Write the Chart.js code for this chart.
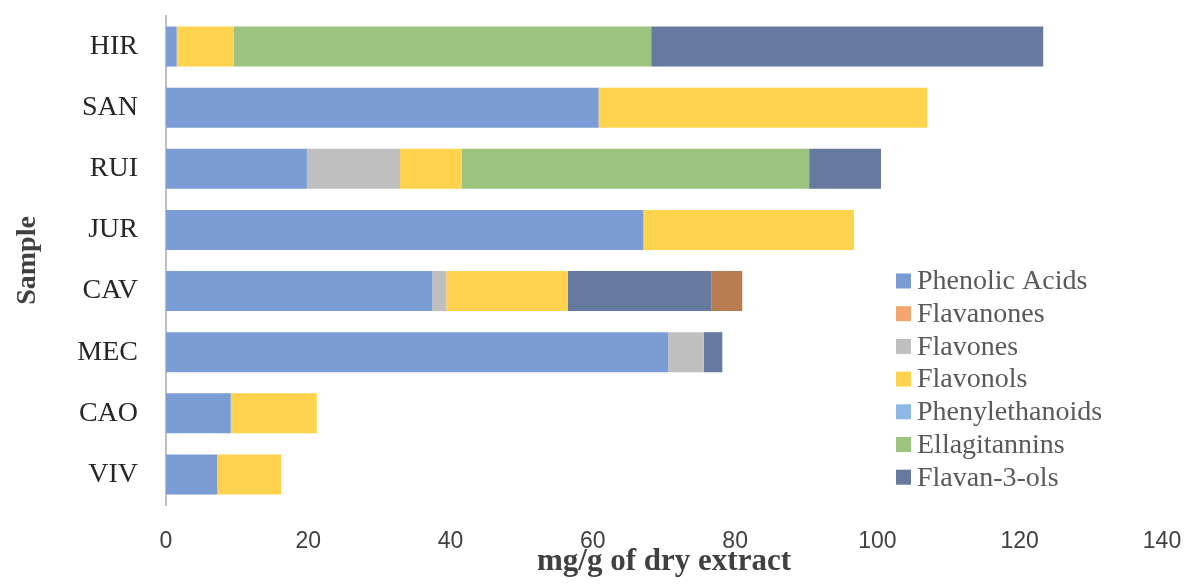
<!DOCTYPE html>
<html>
<head>
<meta charset="utf-8">
<script src="https://cdn.jsdelivr.net/npm/chart.js@4.4.1/dist/chart.umd.min.js"></script>
<style>
  html, body { margin: 0; padding: 0; background: #fff; }
</style>
</head>
<body>
<canvas id="myChart" width="1186" height="587"></canvas>
<script>
// samples, top to bottom
var samples = ['HIR', 'SAN', 'RUI', 'JUR', 'CAV', 'MEC', 'CAO', 'VIV'];

// mg/g of dry extract
var phenolicAcids   = [1.5, 60.8, 19.8, 67.1, 37.4, 70.6, 9.1, 7.2];
var flavones        = [0, 0, 13.1, 0, 2.0, 5.0, 0, 0];
var flavonols       = [8.0, 46.2, 8.7, 29.6, 17.1, 0, 12.1, 9.0];
var phenylethanoids = [0, 0, 0, 0, 0, 0, 0, 0];
var ellagitannins   = [58.7, 0, 48.8, 0, 0, 0, 0, 0];
var flavan3ols      = [55.1, 0, 10.1, 0, 20.2, 2.6, 0, 0];
var flavanones      = [0, 0, 0, 0, 4.3, 0, 0, 0];

var xTicks = [0, 20, 40, 60, 80, 100, 120, 140];

// legend shows the series in this order (indexes into datasets below)
var legendOrder = [0, 6, 1, 2, 3, 4, 5];
var barColors    = ['#7B9CD5', '#BFBFBF', '#FFD34E', '#8DB8E3', '#9DC47F', '#667AA0', '#B97D52'];
var legendColors = ['#7B9CD5', '#BFBFBF', '#FFD34E', '#8DB8E3', '#9DC47F', '#667AA0', '#F4A46E'];

var seriesNames = ['Phenolic Acids', 'Flavones', 'Flavonols', 'Phenylethanoids', 'Ellagitannins', 'Flavan-3-ols', 'Flavanones'];
var seriesData  = [phenolicAcids, flavones, flavonols, phenylethanoids, ellagitannins, flavan3ols, flavanones];

var datasets = seriesNames.map(function(name, i) {
    return {
        label: name,
        data: seriesData[i],
        backgroundColor: barColors[i],
        borderWidth: 0,
        categoryPercentage: 1,
        barPercentage: 0.656
    };
});

var sideLegend = {
    id: 'sideLegend',
    afterDraw: function(chart) {
        var ctx = chart.ctx;
        ctx.save();
        ctx.font = '28px "Liberation Serif"';
        ctx.textBaseline = 'middle';
        ctx.textAlign = 'left';
        legendOrder.forEach(function(idx, i) {
            var y = 281 + i * 32.7;
            ctx.fillStyle = legendColors[idx];
            ctx.fillRect(896, y - 7.5, 15, 15);
            ctx.fillStyle = '#595959';
            ctx.fillText(chart.data.datasets[idx].label, 917, y + 1);
        });
        ctx.restore();
    }
};

Chart.defaults.font.family = '"Liberation Serif", serif';

var ctx = document.getElementById('myChart').getContext('2d');
var chart = new Chart(ctx, {
    type: 'bar',
    data: {
        labels: samples,
        datasets: datasets
    },
    plugins: [sideLegend],
    options: {
        indexAxis: 'y',
        responsive: false,
        animation: false,
        layout: { padding: { top: 16, right: 24, bottom: 0, left: 0 } },
        plugins: {
            legend: { display: false },
            tooltip: { enabled: false }
        },
        scales: {
            x: {
                stacked: true,
                min: xTicks[0],
                max: xTicks[xTicks.length - 1],
                afterBuildTicks: function(scale) {
                    scale.ticks = xTicks.map(function(v) { return { value: v }; });
                },
                grid: { display: false, drawTicks: false },
                border: { display: false },
                ticks: {
                    font: { family: '"Liberation Sans", sans-serif', size: 23 },
                    color: '#404040',
                    padding: 23
                },
                title: {
                    display: true,
                    text: 'mg/g of dry extract',
                    font: { size: 31, weight: 'bold' },
                    color: '#404040',
                    padding: { top: 0, bottom: 6 }
                },
                afterFit: function(scale) {
                    scale.height = 82;
                    scale.paddingLeft = 0;
                    scale.paddingRight = 0;
                }
            },
            y: {
                stacked: true,
                grid: { display: false, drawTicks: false },
                border: { display: true, color: '#BFBFBF', width: 2 },
                ticks: {
                    font: { size: 28 },
                    color: '#262626',
                    padding: 28
                },
                title: {
                    display: true,
                    text: 'Sample',
                    font: { size: 28, weight: 'bold' },
                    color: '#404040',
                    padding: { top: 11, bottom: 0 }
                },
                afterFit: function(scale) {
                    scale.width = 166;
                    scale.paddingTop = 0;
                    scale.paddingBottom = 0;
                }
            }
        }
    }
});
</script>
</body>
</html>
